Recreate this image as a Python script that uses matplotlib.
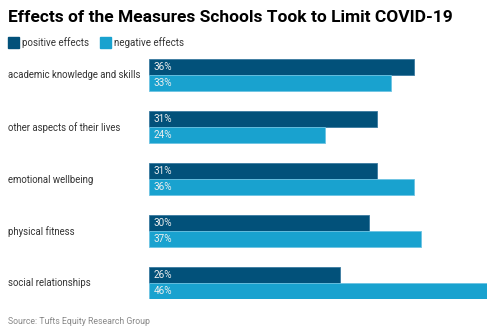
import numpy as np
import matplotlib.pyplot as plt
from matplotlib.patches import Rectangle

categories = ["academic knowledge and skills", "other aspects of their lives",
              "emotional wellbeing", "physical fitness", "social relationships"]
positive = [36, 31, 31, 30, 26]
negative = [33, 24, 36, 37, 46]

dark = "#02517a"
light = "#19a2cf"

plt.rcParams['font.family'] = ['Roboto', 'DejaVu Sans']

fig = plt.figure(figsize=(4.96, 3.34), dpi=100)
ax = fig.add_axes([149 / 496, 1 - 299 / 334, (487 - 149) / 496, (299 - 59) / 334])

y = np.arange(len(categories))
h = 0.31
ax.barh(y - h / 2, positive, height=h, color=dark, edgecolor="#3a7aa0", linewidth=0.6)
ax.barh(y + h / 2, negative, height=h, color=light, edgecolor="#6cc4e3", linewidth=0.6)

for i in range(len(categories)):
    ax.text(0.6, y[i] - h / 2, f"{positive[i]}%", color="#eeeeee", fontsize=7.2,
            va="center", ha="left")
    ax.text(0.6, y[i] + h / 2, f"{negative[i]}%", color="#eeeeee", fontsize=7.2,
            va="center", ha="left")
    fig.text(8 / 496, 1 - (75.5 + 52 * i) / 334, categories[i], fontsize=6.9,
             color="#333333", va="center", ha="left")

ax.set_xlim(0, 46)
ax.set_ylim(len(categories) - 1 + h, -h)
ax.axis("off")

fig.text(8 / 496, 1 - 17 / 334, "Effects of the Measures Schools Took to Limit COVID-19",
         fontsize=12.5, fontweight="bold", color="black", va="center", ha="left")

# legend drawn as plain patches and text
for x0, col, lab in [(8, dark, "positive effects"), (100, light, "negative effects")]:
    fig.patches.append(Rectangle((x0 / 496, 1 - 48 / 334), 11 / 496, 11 / 334,
                                 transform=fig.transFigure, color=col))
    fig.text((x0 + 14) / 496, 1 - 43 / 334, lab, fontsize=7, color="#333333",
             va="center", ha="left")

fig.text(8 / 496, 1 - 321 / 334, "Source: Tufts Equity Research Group", fontsize=6.3,
         color="#888888", va="center", ha="left")

fig.savefig("out.png", dpi=100)
